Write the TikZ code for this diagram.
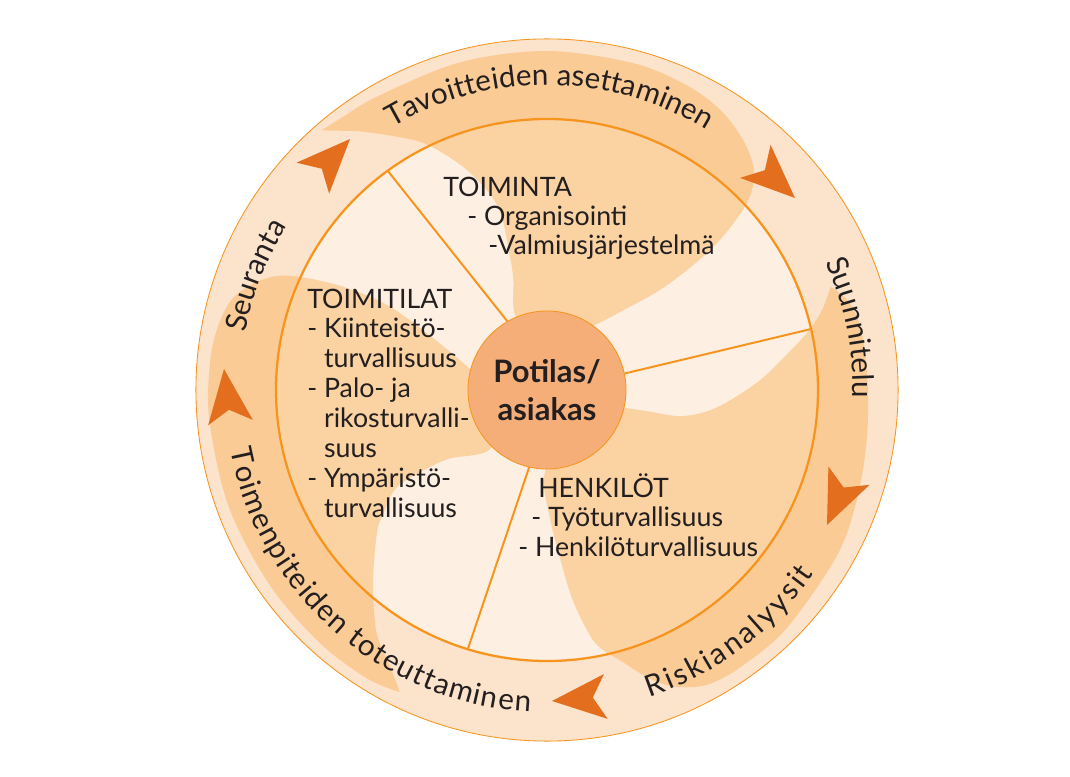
\documentclass[tikz,border=0pt]{standalone}
\usepackage{fontspec}
\setmainfont{Lato}
\usetikzlibrary{decorations.text}

\definecolor{ringpeach}{HTML}{FCE3CB}
\definecolor{diskpeach}{HTML}{FDEFE1}
\definecolor{bladeorange}{RGB}{250,167,68}
\definecolor{rimorange}{HTML}{F7941D}
\definecolor{hubfill}{HTML}{F6AE78}
\definecolor{dartorange}{HTML}{E36F1E}
\definecolor{inkgray}{HTML}{231F20}

\newcommand{\bodyfont}{\fontsize{19}{21.3}\selectfont}
\newcommand{\hubfont}{\fontsize{22}{27}\selectfont\bfseries}
\newcommand{\arcfont}{\fontsize{21}{24}\selectfont\color{inkgray}}
\newcommand{\itemdash}{\makebox[0.42cm][l]{-}}
\newcommand{\itemcont}{\hspace*{0.42cm}}

\tikzset{
  blade/.style={fill=bladeorange, fill opacity=0.4},
  rimline/.style={draw=rimorange, line width=1.6pt},
  divider/.style={draw=rimorange, line width=1.4pt},
  block/.style={anchor=base west, inner sep=0pt, text=inkgray, font=\bodyfont},
  arctext/.style={decorate, decoration={text along path, text align={fit to path}}},
  cyclearrow/.pic={\fill[dartorange] (0,0) -- (-54,22.5) -- (-41,0) -- (-54,-22.5) -- cycle;}
}

\begin{document}
\begin{tikzpicture}[x=0.025cm, y=0.025cm]
  \useasboundingbox (-547,-386) rectangle (523,390);

  % rings
  \node[circle, minimum size=17.55cm, inner sep=0pt, fill=ringpeach, draw=rimorange, line width=0.6pt] (ring) at (0,0) {};
  \node[circle, minimum size=13.55cm, inner sep=0pt, fill=diskpeach] (rim) at (0,0) {};

  % blades
  \fill[blade] plot[smooth, tension=0.55] coordinates {(131:344) (127:341) (120:339) (105:339) (90:339) (75:338) (65:335) (58:329) (52:318) (47.5:305) (44.5:288) (42.6:266) (41:230) (40.5:195) (41.5:151) (46:112) (54:80) (75:55) (100:60) (113:82) (107:115) (105.5:140) (105:190) (110:234) (116:273) (121:296) (126:320)} -- cycle;
  \fill[blade] plot[smooth, tension=0.55] coordinates {(20:302) (16:315) (10:320) (0:321) (-10:324) (-20:329) (-30:334) (-45:338) (-55:338) (-61:336) (-65:328) (-68:318) (-71:303) (-74.5:282) (-78:265) (-80:250) (-83:212) (-85.5:170) (-89:125) (-92:88) (-80:55) (-40:50) (-15:72) (-12:100) (-11:137) (-6:170) (2:210) (8:240) (13:270) (16.5:288)} -- cycle;
  \fill[blade] plot[smooth, tension=0.55] coordinates {(244:336) (238:340) (228:340) (215:339) (200:339) (185:339) (175:338) (169:335) (164:328) (160:312) (157:292) (155:265) (153:225) (152:180) (155:130) (163:85) (180:55) (205:55) (226:83) (215:120) (213:150) (213:180) (217:205) (220:222) (228:260) (235:297) (240.5:318)} -- cycle;

  \draw[rimline] (rim.center) circle[radius=271];

  % hub and dividers
  \node[circle, minimum size=3.95cm, inner sep=0pt, fill=hubfill, draw=rimorange, line width=0.6pt, align=center, text=inkgray, font=\hubfont] (potilas) at (0,0) {Potilas/\\asiakas};
  \draw[divider] (potilas.120.5) -- (rim.126);
  \draw[divider] (potilas.12.7) -- (rim.13.4);
  \draw[divider] (potilas.-103.7) -- (rim.-107.9);

  % arrows
  \pic[rotate=46.5] at (-197,251) {cyclearrow};
  \pic[rotate=-42.7] at (248,192) {cyclearrow};
  \pic[rotate=-114] at (280,-135) {cyclearrow};
  \pic[rotate=184.8] at (5,-311) {cyclearrow};
  \pic[rotate=96.9] at (-323,21) {cyclearrow};

  % sectors
  \node[block, font={\fontsize{19}{20.6}\selectfont}] (toiminta) at (-104,193) {\begin{tabular}[t]{@{}l@{}}TOIMINTA\\ \hspace*{0.6cm}- Organisointi\\ \hspace*{1.125cm}-Valmiusjärjestelmä\end{tabular}};
  \node[block] (toimitilat) at (-240,82) {\begin{tabular}[t]{@{}l@{}}TOIMITILAT\\ \itemdash Kiinteistö-\\ \itemcont turvallisuus\\ \itemdash Palo- ja\\ \itemcont rikosturvalli-\\ \itemcont suus\\ \itemdash Ympäristö-\\ \itemcont turvallisuus\end{tabular}};
  \node[block] (henkilot) at (-29,-107) {\begin{tabular}[t]{@{}l@{}}\hspace*{0.5cm}HENKILÖT\\ \hspace*{0.33cm}\itemdash Työturvallisuus\\ \itemdash Henkilöturvallisuus\end{tabular}};

  % cycle labels
  \path[arctext, decoration={text={|\arcfont|Tavoitteiden asettaminen}}] (120.5:305) arc[start angle=120.5, end angle=58.4, radius=305];
  \path[arctext, decoration={text={|\arcfont|Suunnitelu}}] (24.7:306) arc[start angle=24.7, end angle=-1.5, radius=306];
  \path[arctext, decoration={text={|\arcfont|Seuranta}}] (169.3:307) arc[start angle=169.3, end angle=148.5, radius=307];
  \path[arctext, decoration={text={|\arcfont|Toimenpiteiden toteuttaminen}}] (190.7:322) arc[start angle=190.7, end angle=267, radius=322];
  \path[arctext, decoration={text={|\arcfont|Riskianalyysit}}] (-71.5:324) arc[start angle=-71.5, end angle=-34.5, radius=324];
\end{tikzpicture}
\end{document}
